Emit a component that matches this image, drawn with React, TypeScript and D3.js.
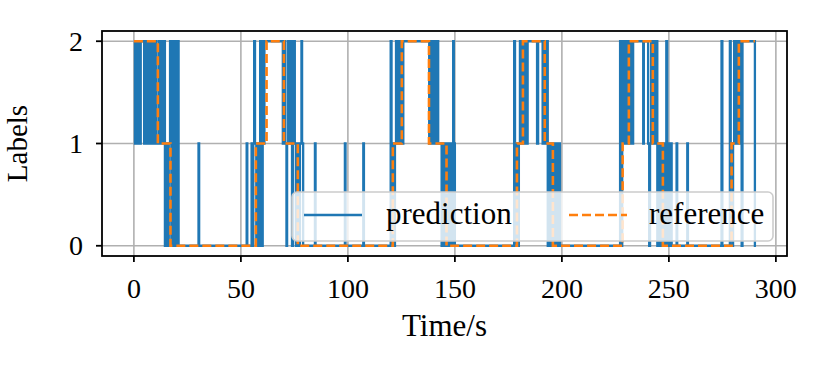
import React, { useEffect, useRef } from "react";
import * as d3 from "d3";

// change points: [time in s, label]; each value holds until the next point
const predictionSteps: [number, number][] = [
  [0, 2], [0.5, 1], [1.1, 2], [1.7, 1], [2.3, 2], [2.9, 1], [3.2, 2],
  [4.8, 1], [5.4, 2], [6.0, 1], [6.6, 2], [7.2, 1], [7.8, 2], [8.4, 1], [9.0, 2], [9.6, 1], [10.3, 2], [10.6, 1],
  [11.8, 2], [12.4, 1], [13.0, 2], [13.6, 1], [14.2, 2], [14.5, 0], [15.1, 1], [15.7, 0], [16.3, 1],
  [16.9, 2], [17.5, 0], [18.1, 2], [18.7, 0], [19.3, 2], [19.9, 0], [20.5, 2], [20.9, 0],
  [30.2, 1], [30.5, 0],
  [52.7, 1], [53.0, 0], [55.0, 1], [55.3, 0], [55.8, 1], [56.2, 2], [56.6, 1], [57.2, 0], [57.7, 1], [58.3, 0],
  [59.0, 2], [59.6, 0], [60.2, 2], [60.7, 1], [61.0, 2],
  [69.6, 1], [70.2, 2], [70.8, 1], [71.3, 0], [71.6, 1], [72.1, 2], [72.7, 1], [73.3, 2], [73.9, 0], [74.4, 1],
  [74.9, 2], [75.2, 1], [75.8, 0], [76.4, 1], [77.0, 0], [77.6, 1], [78.3, 2], [78.6, 1], [79.1, 0],
  [84.6, 1], [84.9, 0], [98.6, 1], [98.9, 0], [107.2, 1], [107.5, 0],
  [120.0, 2], [120.4, 0], [121.0, 1], [121.5, 0], [122.0, 1], [122.5, 2], [123.1, 1], [123.7, 2], [124.3, 1],
  [124.9, 2], [125.4, 1], [125.9, 2],
  [138.0, 1], [138.5, 2], [139.0, 1], [139.6, 2], [140.1, 1], [140.7, 2], [141.2, 1], [141.7, 2], [142.2, 1],
  [143.8, 0], [144.4, 1], [145.0, 0], [145.6, 1], [146.2, 0], [146.8, 1], [147.4, 0], [148.0, 1], [148.6, 0],
  [149.2, 2], [149.5, 1], [150.0, 0],
  [177.7, 2], [178.1, 0], [178.7, 1], [179.3, 0], [179.9, 1], [180.4, 2], [181.0, 1], [181.6, 2], [182.2, 1],
  [182.8, 2], [183.4, 1], [184.0, 2], [188.4, 1], [188.9, 2],
  [191.0, 1], [191.6, 2], [192.2, 1], [192.8, 2], [193.4, 0], [194.0, 1], [194.6, 0], [195.2, 1], [195.8, 0],
  [196.4, 1], [197.0, 0], [197.6, 1], [198.2, 0], [198.8, 1], [199.1, 0],
  [227.2, 2], [227.7, 0], [228.2, 1], [228.6, 2], [229.2, 1], [229.8, 2], [230.4, 1], [231.0, 2], [231.6, 1],
  [232.2, 2], [232.8, 1], [233.3, 2],
  [238.0, 1], [238.3, 2],
  [240.3, 1], [240.8, 0], [241.2, 1], [241.7, 2], [242.3, 1], [242.9, 2], [243.5, 1], [244.1, 2], [244.6, 0],
  [245.2, 1], [245.8, 0], [246.4, 1], [247.0, 0], [247.6, 1], [248.2, 0], [248.8, 2], [249.2, 0], [249.8, 1],
  [250.4, 0], [251.0, 1], [251.3, 0],
  [253.6, 1], [253.9, 0], [258.6, 1], [258.9, 0],
  [274.6, 2], [275.0, 0], [278.5, 2], [278.9, 0], [280.0, 1], [280.5, 2], [281.0, 1], [281.5, 2], [282.0, 1],
  [282.5, 2], [283.0, 1], [283.5, 2], [284.0, 0], [284.4, 2], [290.2, 0], [290.7, 0],
];

const referenceSteps: [number, number][] = [
  [0, 2], [11.2, 1], [17.1, 0], [57, 1], [62, 2], [70.1, 1], [76.6, 0],
  [121, 1], [125.2, 2], [137.9, 1], [146.1, 0], [179, 1], [181.8, 2], [192, 1], [195.8, 0],
  [228.4, 1], [231.3, 2], [242.5, 1], [247.2, 0], [279.3, 1], [282.7, 2], [290.2, 2],
];

const xTicks = [0, 50, 100, 150, 200, 250, 300];
const yTicks = [0, 1, 2];
const seriesNames = ["prediction", "reference"];

const FONT = "'Liberation Serif', 'DejaVu Serif', serif";

const App = () => {
  const ref = useRef<SVGSVGElement>(null);

  useEffect(() => {
    const width = 830;
    const height = 374;
    const m = { left: 102, right: 787, top: 31, bottom: 256 };

    const svg = d3.select(ref.current);
    svg.selectAll("*").remove();

    const x = d3.scaleLinear().domain([-14.9, 305.2]).range([m.left, m.right]);
    const y = d3.scaleLinear().domain([-0.1, 2.1]).range([m.bottom, m.top]);

    svg.append("rect").attr("width", width).attr("height", height).attr("fill", "white");

    // grid
    const grid = svg.append("g").attr("stroke", "#b0b0b0").attr("stroke-width", 1.6);
    xTicks.forEach((t) => {
      grid.append("line").attr("x1", x(t)).attr("x2", x(t)).attr("y1", m.top).attr("y2", m.bottom);
    });
    yTicks.forEach((t) => {
      grid.append("line").attr("x1", m.left).attr("x2", m.right).attr("y1", y(t)).attr("y2", y(t));
    });

    const line = d3
      .line<[number, number]>()
      .x((d) => x(d[0]))
      .y((d) => y(d[1]))
      .curve(d3.curveStepAfter);

    svg
      .append("path")
      .attr("d", line(predictionSteps))
      .attr("fill", "none")
      .attr("stroke", "#1f77b4")
      .attr("stroke-width", 2.3);

    svg
      .append("path")
      .attr("d", line(referenceSteps))
      .attr("fill", "none")
      .attr("stroke", "#ff7f0e")
      .attr("stroke-width", 2.6)
      .attr("stroke-dasharray", "9,4");

    // legend
    const lg = svg.append("g");
    lg.append("rect")
      .attr("x", 292)
      .attr("y", 192)
      .attr("width", 481)
      .attr("height", 49)
      .attr("rx", 5)
      .attr("fill", "white")
      .attr("fill-opacity", 0.8)
      .attr("stroke", "#cccccc")
      .attr("stroke-width", 1.6);
    lg.append("line")
      .attr("x1", 304).attr("x2", 362).attr("y1", 215).attr("y2", 215)
      .attr("stroke", "#1f77b4").attr("stroke-width", 2.3);
    lg.append("line")
      .attr("x1", 569).attr("x2", 627).attr("y1", 215).attr("y2", 215)
      .attr("stroke", "#ff7f0e").attr("stroke-width", 2.6).attr("stroke-dasharray", "9,4");
    lg.append("text").attr("x", 386).attr("y", 224).text(seriesNames[0]);
    lg.append("text").attr("x", 649).attr("y", 224).text(seriesNames[1]);
    lg.selectAll("text").attr("font-family", FONT).attr("font-size", 31).attr("fill", "black");

    // frame
    svg
      .append("rect")
      .attr("x", m.left)
      .attr("y", m.top)
      .attr("width", m.right - m.left)
      .attr("height", m.bottom - m.top)
      .attr("fill", "none")
      .attr("stroke", "black")
      .attr("stroke-width", 1.8);

    // ticks
    const ax = svg.append("g").attr("font-family", FONT).attr("font-size", 28);
    xTicks.forEach((t) => {
      ax.append("line").attr("x1", x(t)).attr("x2", x(t)).attr("y1", m.bottom).attr("y2", m.bottom + 6)
        .attr("stroke", "black").attr("stroke-width", 1.8);
      ax.append("text").attr("x", x(t)).attr("y", 298).attr("text-anchor", "middle").text(t);
    });
    yTicks.forEach((t) => {
      ax.append("line").attr("x1", m.left - 6).attr("x2", m.left).attr("y1", y(t)).attr("y2", y(t))
        .attr("stroke", "black").attr("stroke-width", 1.8);
      ax.append("text").attr("x", 83).attr("y", y(t) + 9.5).attr("text-anchor", "end").text(t);
    });

    ax.append("text")
      .attr("x", (m.left + m.right) / 2)
      .attr("y", 336)
      .attr("font-size", 31)
      .attr("text-anchor", "middle")
      .text("Time/s");

    ax.append("text")
      .attr("transform", `translate(27, ${(m.top + m.bottom) / 2}) rotate(-90)`)
      .attr("font-size", 29)
      .attr("text-anchor", "middle")
      .text("Labels");
  }, []);

  return (
    <svg
      ref={ref}
      width={830}
      height={374}
      style={{ position: "absolute", left: 0, top: 0, display: "block" }}
    />
  );
};

export default App;
